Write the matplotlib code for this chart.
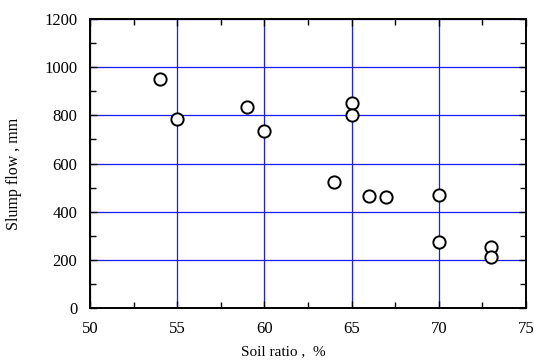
import matplotlib
matplotlib.use("Agg")
import matplotlib.pyplot as plt
from matplotlib.ticker import MultipleLocator

# data
soil_ratio = [54, 55, 59, 60, 65, 65, 64, 66, 67, 70, 70, 73, 73]
slump_flow = [950, 785, 835, 735, 850, 800, 525, 465, 460, 470, 275, 255, 210]

x_ticks = [50, 55, 60, 65, 70, 75]
y_ticks = [0, 200, 400, 600, 800, 1000, 1200]

plt.rcParams['font.family'] = ['Liberation Serif', 'DejaVu Serif']

fig = plt.figure(figsize=(5.34, 3.62), dpi=100)
ax = fig.add_axes([0.1685, 0.149, 0.8165, 0.7985])

ax.set_xlim(50, 75)
ax.set_ylim(0, 1200)
ax.set_xticks(x_ticks)
ax.set_yticks(y_ticks)
ax.xaxis.set_minor_locator(MultipleLocator(2.5))
ax.yaxis.set_minor_locator(MultipleLocator(100))

ax.grid(True, which='major', color='#1a1aff', linewidth=0.9)
ax.set_axisbelow(True)

ax.scatter(soil_ratio, slump_flow, s=78, facecolors='white',
           edgecolors='black', linewidths=1.4, zorder=3, clip_on=False)

ax.tick_params(which='both', direction='in', top=True, right=True,
               labelsize=12, width=1)
ax.tick_params(which='major', length=5, pad=9)
ax.tick_params(which='minor', length=4)
for s in ax.spines.values():
    s.set_linewidth(1.4)

# labels sit a little off-centre in the original
ax.set_xlabel('Soil ratio ,  %', fontsize=11)
ax.set_ylabel('Slump flow , mm', fontsize=11.5)
ax.xaxis.set_label_coords(0.444, -0.13)
ax.yaxis.set_label_coords(-0.155, 0.464)

fig.savefig('out.png', dpi=100)
